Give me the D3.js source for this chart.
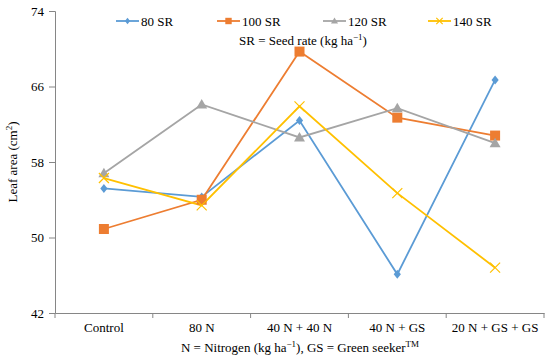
<!DOCTYPE html>
<html><head><meta charset="utf-8">
<script src="https://cdn.jsdelivr.net/npm/d3@7"></script>
<style>body{margin:0;background:#fff}svg text{font-family:"Liberation Serif","Times New Roman",serif}</style>
</head><body><svg id="c" width="550" height="358"></svg>
<script>
const categories = ["Control","80 N","40 N + 40 N","40 N + GS","20 N + GS + GS"];
const seriesNames = ["80 SR","100 SR","120 SR","140 SR"];
const sr80  = [55.2, 54.3, 62.4, 46.1, 66.7];
const sr100 = [50.9, 54.0, 69.7, 62.7, 60.8];
const sr120 = [56.8, 64.1, 60.6, 63.7, 60.0];
const sr140 = [56.3, 53.4, 63.9, 54.7, 46.8];
const yTicks = [42, 50, 58, 66, 74];
const colors = ["#5B9BD5","#ED7D31","#A5A5A5","#FFC000"];
const symbols = ["diamond","square","triangle","x"];
const seriesValues = [sr80, sr100, sr120, sr140];

const svg = d3.select("#c");
const m = {l:55, r:544, t:11, b:313};
const x = d3.scaleBand().domain(categories).range([m.l, m.r]).padding(0);
const y = d3.scaleLinear().domain([42, 74]).range([m.b, m.t]);
const axisColor = "#868686";

// y axis
const ya = svg.append("g").attr("transform",`translate(${m.l},0)`)
  .call(d3.axisLeft(y).tickValues(yTicks).tickSize(6).tickPadding(5));
ya.attr("font-size",13).attr("font-family","Liberation Serif");
ya.select(".domain").attr("stroke",axisColor);
ya.selectAll(".tick line").attr("stroke",axisColor);
ya.selectAll("text").attr("fill","#000");

// x axis
const xa = svg.append("g").attr("transform",`translate(0,${m.b})`)
  .call(d3.axisBottom(x).tickSize(0).tickPadding(10));
xa.attr("font-size",13).attr("font-family","Liberation Serif");
xa.select(".domain").attr("stroke",axisColor);
xa.selectAll("text").attr("fill","#000");
// boundary tick marks
const bounds = categories.map(c => x(c)).concat([x(categories[categories.length-1]) + x.bandwidth()]);
svg.append("g").selectAll("line").data(bounds).join("line")
  .attr("x1",d=>d).attr("x2",d=>d).attr("y1",m.b).attr("y2",m.b+5)
  .attr("stroke",axisColor);

function marker(g, type, color, size){
  if(type==="diamond"){
    g.append("path").attr("d",`M0,${-size}L${size*0.8},0L0,${size}L${-size*0.8},0Z`).attr("fill",color);
  } else if(type==="square"){
    g.append("rect").attr("x",-size).attr("y",-size).attr("width",2*size).attr("height",2*size).attr("fill",color);
  } else if(type==="triangle"){
    g.append("path").attr("d",`M0,${-size*1.1}L${size*1.1},${size*0.8}L${-size*1.1},${size*0.8}Z`).attr("fill",color);
  } else {
    g.append("path").attr("d",`M${-size},${-size}L${size},${size}M${-size},${size}L${size},${-size}`)
      .attr("stroke",color).attr("stroke-width",1.2).attr("fill","none");
  }
}

const cx = c => x(c) + x.bandwidth()/2;
const line = d3.line().x((d,i)=>cx(categories[i])).y(d=>y(d));
const markerSize = [4.5, 5, 5, 5];

seriesValues.forEach((vals, si) => {
  svg.append("path").datum(vals).attr("d", line).attr("fill","none")
    .attr("stroke", colors[si]).attr("stroke-width", 1.8);
});
seriesValues.forEach((vals, si) => {
  vals.forEach((v,i) => {
    const g = svg.append("g").attr("transform",`translate(${cx(categories[i])},${y(v)})`);
    marker(g, symbols[si], colors[si], markerSize[si]);
  });
});

// legend
const legX = [116, 217, 323, 428];
seriesNames.forEach((n, si) => {
  const g = svg.append("g").attr("transform",`translate(${legX[si]},21)`);
  g.append("line").attr("x1",0).attr("x2",23).attr("stroke",colors[si]).attr("stroke-width",1.8);
  const mg = g.append("g").attr("transform","translate(11.5,0)");
  marker(mg, symbols[si], colors[si], 3.2);
  g.append("text").attr("x",25).attr("y",4.5).attr("font-size",13).text(n);
});
const sub = svg.append("text").attr("x",303).attr("y",45).attr("text-anchor","middle").attr("font-size",13);
sub.append("tspan").text("SR = Seed rate (kg ha");
sub.append("tspan").attr("font-size",9).attr("dy",-5).text("−1");
sub.append("tspan").attr("dy",5).text(")");

// y title
const yt = svg.append("text").attr("transform","translate(17,162) rotate(-90)").attr("text-anchor","middle").attr("font-size",13);
yt.append("tspan").text("Leaf area (cm");
yt.append("tspan").attr("font-size",9).attr("dy",-5).text("2");
yt.append("tspan").attr("dy",5).text(")");

// x title
const xt = svg.append("text").attr("x",300).attr("y",352).attr("text-anchor","middle").attr("font-size",13);
xt.append("tspan").text("N = Nitrogen (kg ha");
xt.append("tspan").attr("font-size",9).attr("dy",-5).text("−1");
xt.append("tspan").attr("dy",5).text("), GS = Green seeker");
xt.append("tspan").attr("font-size",9).attr("dy",-5).text("TM");
</script></body></html>
